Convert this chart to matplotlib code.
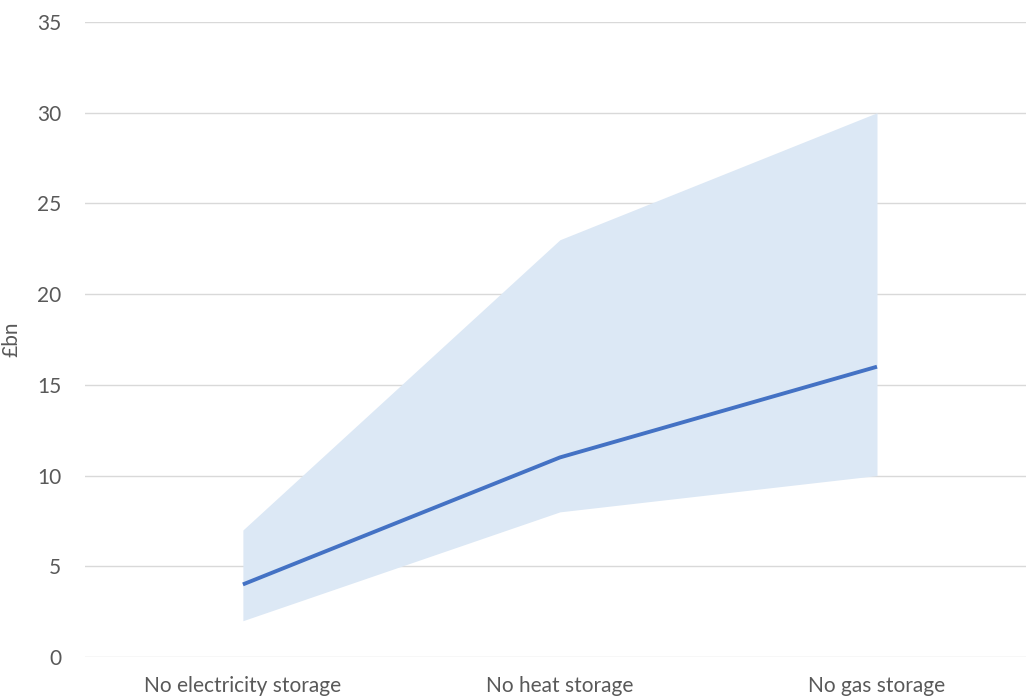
import matplotlib
matplotlib.use('Agg')
import matplotlib.pyplot as plt

# data
categories = ['No electricity storage', 'No heat storage', 'No gas storage']
central = [4, 11, 16]
low = [2, 8, 10]
high = [7, 23, 30]
yticks = [0, 5, 10, 15, 20, 25, 30, 35]

plt.rcParams['font.family'] = ['Lato', 'DejaVu Sans']
grey = '#595959'

fig = plt.figure(figsize=(10.26, 7), dpi=100)
ax = fig.add_axes([85 / 1026, 43 / 700, 941 / 1026, 635 / 700])

x = list(range(len(categories)))
ax.fill_between(x, low, high, color='#dce8f5', linewidth=0, zorder=2)
ax.plot(x, central, color='#4472c4', linewidth=2.8, solid_capstyle='butt', zorder=3)

ax.set_xlim(-0.498, 2.47)
ax.set_ylim(0, 35)
ax.set_yticks(yticks)
ax.set_xticks(x)
ax.set_xticklabels(categories)
ax.yaxis.grid(True, color='#d9d9d9', linewidth=1)
ax.set_axisbelow(True)
for s in ax.spines.values():
    s.set_visible(False)
ax.tick_params(axis='both', length=0, colors=grey, labelsize=15)
ax.tick_params(axis='y', pad=17)
ax.tick_params(axis='x', pad=14)
ax.set_ylabel('£bn', color=grey, fontsize=15)
ax.yaxis.set_label_coords(-0.068, 0.5)

fig.savefig('out.png', dpi=100)
